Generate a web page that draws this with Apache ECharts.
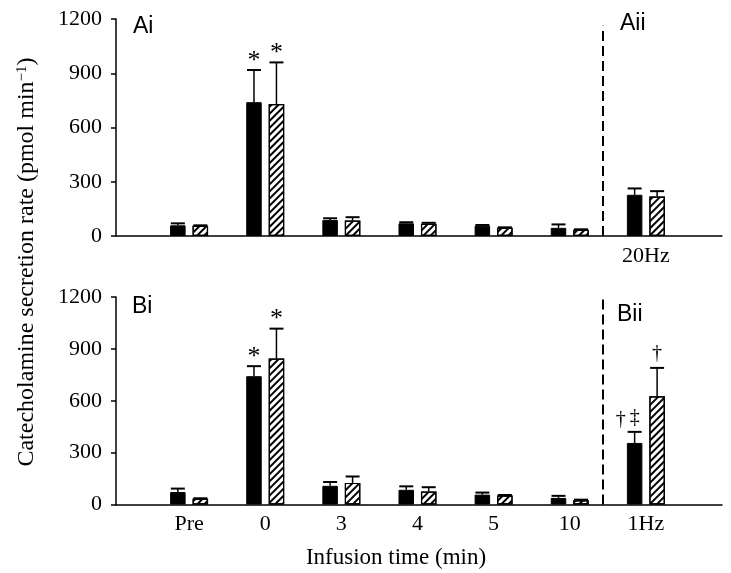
<!DOCTYPE html>
<html><head><meta charset="utf-8">
<script src="https://cdn.jsdelivr.net/npm/echarts@6/dist/echarts.min.js"></script>
<style>html,body{margin:0;padding:0;background:#fff}#c{width:731px;height:573px}</style>
</head><body><div id="c"></div>
<script>
// ---- data ----
const categories = ['Pre', '0', '3', '4', '5', '10'];
const topStimLabel = '20Hz';
const bottomStimLabel = '1Hz';
const yTicks = [0, 300, 600, 900, 1200];

// Panel A (top)
const topBlack      = [59, 740, 88, 70, 57, 45, 228];
const topBlackErr   = [11, 178, 10, 6, 4, 19, 35];
const topHatch      = [56, 730, 86, 68, 45, 34, 218];
const topHatchErr   = [3, 230, 18, 5, 3, 3, 30];
const topBlackNote  = ['', '*', '', '', '', '', ''];
const topHatchNote  = ['', '*', '', '', '', '', ''];

// Panel B (bottom)
const botBlack      = [72, 742, 108, 85, 57, 38, 356];
const botBlackErr   = [20, 58, 22, 20, 12, 12, 64];
const botHatch      = [33, 844, 125, 75, 52, 25, 626];
const botHatchErr   = [3, 173, 37, 25, 3, 3, 164];
const botBlackNote  = ['', '*', '', '', '', '', '\u2021'];
const botBlackSide  = ['', '', '', '', '', '', '\u2020'];
const botHatchNote  = ['', '*', '', '', '', '', '\u2020'];

const dividerX = 5.43;

// ---- rendering ----
const SERIF = 'Liberation Serif';
const SANS = 'Liberation Sans';
const BAR_W = 15.5, BAR_GAP = 0.45;
const positions = [0, 1, 2, 3, 4, 5, 6];
const topLabels = ['', '', '', '', '', '', topStimLabel];
const botLabels = categories.concat([bottomStimLabel]);

const chart = echarts.init(document.getElementById('c'));

const hatchStyle = {
  color: '#fff', borderColor: '#000', borderWidth: 1.2,
  decal: { symbol: 'rect', symbolSize: 1, dashArrayX: [1, 0], dashArrayY: [1.7, 2.1],
           rotation: -Math.PI / 4, color: '#000' }
};
const blackStyle = { color: '#000', borderColor: '#000', borderWidth: 1 };

function barSeries(vals, style, idx) {
  return {
    type: 'bar', xAxisIndex: idx, yAxisIndex: idx,
    data: vals.map((v, i) => [positions[i], v]),
    barWidth: BAR_W, barGap: (BAR_GAP * 100) + '%',
    itemStyle: style, silent: true, animation: false
  };
}

function errSeries(vals, errs, notes, side, idx, sideNotes, extra) {
  return Object.assign({
    type: 'custom', xAxisIndex: idx, yAxisIndex: idx, silent: true, animation: false,
    data: vals.map((v, i) => [positions[i], v, v + errs[i], i]),
    renderItem: function (params, api) {
      const x = api.value(0);
      const i = api.value(3);
      const top = api.coord([x, api.value(2)]);
      const base = api.coord([x, api.value(1)]);
      const cx = top[0] + side * BAR_W * (1 + BAR_GAP) / 2;
      const children = [
        { type: 'line', shape: { x1: cx, y1: base[1], x2: cx, y2: top[1] }, style: { stroke: '#000', lineWidth: 1.5 } },
        { type: 'line', shape: { x1: cx - 7, y1: top[1], x2: cx + 7, y2: top[1] }, style: { stroke: '#000', lineWidth: 2 } }
      ];
      const note = notes[i];
      if (note) {
        const isStar = note === '*';
        children.push({ type: 'text', x: cx, y: top[1] + (isStar ? 4 : -4),
          style: { text: note, fill: '#000', font: (isStar ? 26 : 20) + 'px "' + SERIF + '"',
                   textAlign: 'center', textVerticalAlign: 'bottom', align: 'center', verticalAlign: 'bottom' } });
      }
      if (sideNotes && sideNotes[i]) {
        children.push({ type: 'text', x: cx - 14, y: top[1] - 2,
          style: { text: sideNotes[i], fill: '#000', font: '20px "' + SERIF + '"',
                   textAlign: 'center', textVerticalAlign: 'bottom', align: 'center', verticalAlign: 'bottom' } });
      }
      return { type: 'group', children: children };
    }
  }, extra || {});
}

function xAxis(idx, labels) {
  return {
    gridIndex: idx, type: 'value', min: -0.96, max: 7.0,
    axisLine: { show: true, onZero: false, lineStyle: { color: '#000', width: 1.5 } },
    axisTick: { show: false }, splitLine: { show: false },
    axisLabel: { customValues: positions, formatter: v => labels[Math.round(v)] || '',
                 fontFamily: SERIF, fontSize: 22, color: '#000', margin: 9 }
  };
}
function yAxis(idx) {
  return {
    gridIndex: idx, type: 'value', min: yTicks[0], max: yTicks[yTicks.length - 1], interval: 300,
    axisLine: { show: true, onZero: false, lineStyle: { color: '#000', width: 1.5 } },
    axisTick: { show: true, length: 5, lineStyle: { color: '#000', width: 1.5 } },
    splitLine: { show: false },
    axisLabel: { fontFamily: SERIF, fontSize: 22, color: '#000', margin: 14, formatter: v => String(v) }
  };
}
function divider(topVal) {
  return { markLine: { symbol: 'none', silent: true, animation: false, label: { show: false },
    lineStyle: { type: [10, 5], color: '#000', width: 2 },
    data: [[{ coord: [dividerX, 0] }, { coord: [dividerX, topVal] }]] } };
}

chart.setOption({
  backgroundColor: '#fff',
  animation: false,
  grid: [
    { left: 116, right: 9, top: 19, height: 217 },
    { left: 116, right: 9, top: 297, height: 207.5 }
  ],
  xAxis: [xAxis(0, topLabels), xAxis(1, botLabels)],
  yAxis: [yAxis(0), yAxis(1)],
  series: [
    barSeries(topBlack, blackStyle, 0),
    barSeries(topHatch, hatchStyle, 0),
    errSeries(topBlack, topBlackErr, topBlackNote, -1, 0, null, divider(1162)),
    errSeries(topHatch, topHatchErr, topHatchNote, 1, 0),
    barSeries(botBlack, blackStyle, 1),
    barSeries(botHatch, hatchStyle, 1),
    errSeries(botBlack, botBlackErr, botBlackNote, -1, 1, botBlackSide, divider(1200)),
    errSeries(botHatch, botHatchErr, botHatchNote, 1, 1)
  ],
  graphic: [
    { type: 'text', x: 133, y: 27, style: { text: 'Ai', font: '23px "' + SANS + '"', fill: '#000', textVerticalAlign: 'middle', verticalAlign: 'middle' } },
    { type: 'text', x: 620, y: 24, style: { text: 'Aii', font: '23px "' + SANS + '"', fill: '#000', textVerticalAlign: 'middle', verticalAlign: 'middle' } },
    { type: 'text', x: 132, y: 307, style: { text: 'Bi', font: '23px "' + SANS + '"', fill: '#000', textVerticalAlign: 'middle', verticalAlign: 'middle' } },
    { type: 'text', x: 617, y: 315, style: { text: 'Bii', font: '23px "' + SANS + '"', fill: '#000', textVerticalAlign: 'middle', verticalAlign: 'middle' } },
    { type: 'text', x: 396, y: 558, style: { text: 'Infusion time (min)', font: '23px "' + SERIF + '"', fill: '#000',
      textAlign: 'center', align: 'center', textVerticalAlign: 'middle', verticalAlign: 'middle' } },
    { type: 'text', x: 27, y: 262, rotation: Math.PI / 2,
      style: { text: 'Catecholamine secretion rate (pmol min{sup|\u22121})', fill: '#000',
        font: '24px "' + SERIF + '"', fontFamily: SERIF, fontSize: 24,
        textAlign: 'center', align: 'center', textVerticalAlign: 'middle', verticalAlign: 'middle',
        rich: { sup: { fontFamily: SERIF, fontSize: 15, padding: [0, 0, 10, 0], fill: '#000' } } } }
  ]
});
</script></body></html>
